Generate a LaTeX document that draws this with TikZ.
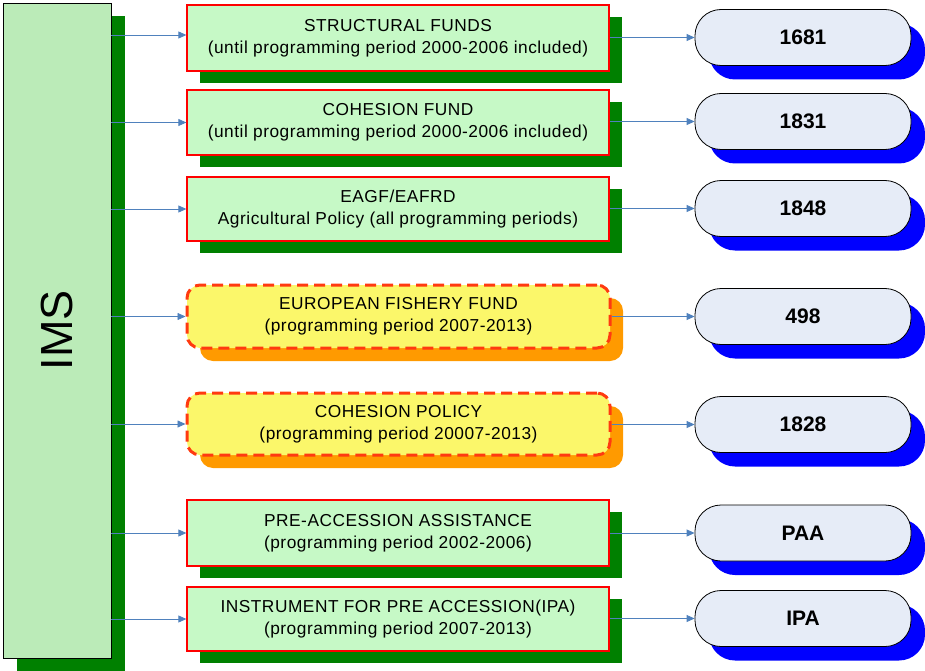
\documentclass[tikz,border=0pt]{standalone}
\usepackage{fontspec}
\setmainfont{Liberation Sans}
\newfontfamily\boxfont[LetterSpace=3]{Liberation Sans}
\usetikzlibrary{shadows,arrows.meta}
\definecolor{imsfill}{HTML}{BBEBB8}
\definecolor{gfill}{HTML}{C6F9C6}
\definecolor{gshadow}{HTML}{008000}
\definecolor{yfill}{HTML}{FBF76A}
\definecolor{oshadow}{HTML}{FF9A00}
\definecolor{dashred}{HTML}{FF3A10}
\definecolor{pfill}{HTML}{E6ECF7}
\definecolor{arrowc}{HTML}{4F81BD}
\tikzset{
  imsbox/.style={draw=black, line width=0.8pt, fill=imsfill, minimum width=108, minimum height=655,
    general shadow={shadow xshift=14pt, shadow yshift=-13pt, fill=gshadow, draw=none, opacity=1}},
  gbox/.style={draw=red, line width=1.3pt, fill=gfill, minimum width=422, align=center,
    font=\boxfont\fontsize{17.3}{22}\selectfont,
    general shadow={shadow xshift=13pt, shadow yshift=-12pt, fill=gshadow, draw=none, opacity=1}},
  ybox/.style={draw=dashred, line width=3pt, dash pattern=on 11pt off 6pt, rounded corners=13pt, fill=yfill,
    minimum width=423, align=center, font=\boxfont\fontsize{17.3}{22}\selectfont,
    general shadow={shadow xshift=13pt, shadow yshift=-13pt, fill=oshadow, draw=none, opacity=1}},
  pill/.style={draw=black, line width=0.8pt, fill=pfill, rounded corners=26pt, minimum width=216, minimum height=56,
    font=\fontsize{21}{25}\selectfont\bfseries,
    general shadow={shadow xshift=14pt, shadow yshift=-14pt, fill=blue, draw=none, opacity=1}},
  conn/.style={draw=arrowc, line width=0.8pt, -{Triangle[length=8pt,width=7pt]}},
}
\begin{document}
\begin{tikzpicture}[x=1pt,y=-1pt]
\useasboundingbox (0,0) rectangle (925,671);
\node[imsbox] (ims) at (57,330.5) {};
\node[rotate=90, font=\fontsize{45}{45}\selectfont] at (ims.center) {IMS};

\node[gbox, minimum height=66] (b1) at (398,38) {STRUCTURAL FUNDS\\(until programming period 2000-2006 included)};
\node[gbox, minimum height=65] (b2) at (398,122.5) {COHESION FUND\\(until programming period 2000-2006 included)};
\node[gbox, minimum height=64] (b3) at (398,209) {EAGF/EAFRD\\Agricultural Policy (all programming periods)};
\node[ybox, minimum height=63] (b4) at (398.5,316.5) {EUROPEAN FISHERY FUND\\(programming period 2007-2013)};
\node[ybox, minimum height=62] (b5) at (398.5,424) {COHESION POLICY\\(programming period 20007-2013)};
\node[gbox, minimum height=66] (b6) at (398,533) {PRE-ACCESSION ASSISTANCE\\(programming period 2002-2006)};
\node[gbox, minimum height=64] (b7) at (398,619) {INSTRUMENT FOR PRE ACCESSION(IPA)\\(programming period 2007-2013)};

\node[pill] (p1) at (803,37.5) {1681};
\node[pill] (p2) at (803,121.5) {1831};
\node[pill] (p3) at (803,208.5) {1848};
\node[pill] (p4) at (803,316.5) {498};
\node[pill] (p5) at (803,424.5) {1828};
\node[pill] (p6) at (803,533) {PAA};
\node[pill] (p7) at (803,618.5) {IPA};

\foreach \i/\yy in {1/35,2/122.5,3/209,4/316.5,5/424,6/533,7/619}{
  \draw[conn] (ims.east |- 0,\yy) -- (b\i.west |- 0,\yy);
}
\foreach \i/\yy in {1/37.5,2/121.5,3/208.5,4/316.5,5/424.5,6/533,7/618.5}{
  \draw[conn] (b\i.east |- 0,\yy) -- (p\i.west |- 0,\yy);
}
\end{tikzpicture}
\end{document}
